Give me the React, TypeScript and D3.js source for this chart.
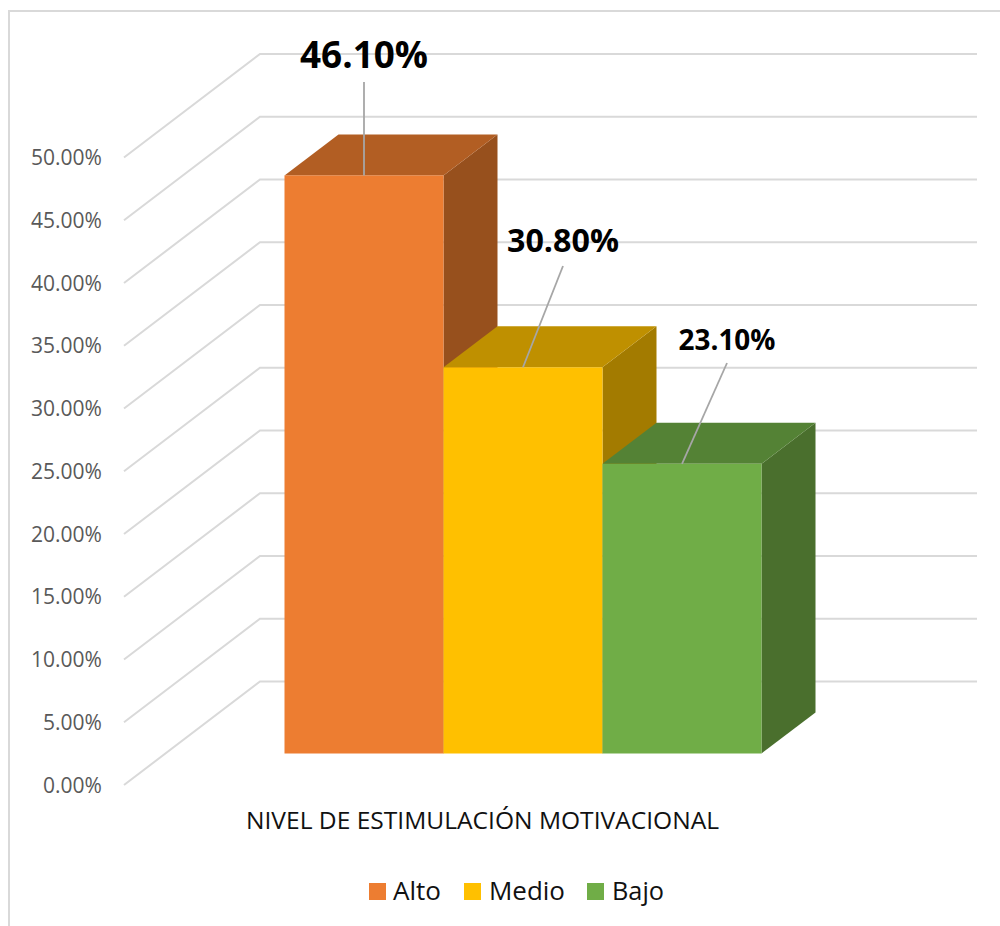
import React from "react";
import * as d3 from "d3";

const categories = ["Alto", "Medio", "Bajo"];
const values = [46.1, 30.8, 23.1];
const valueLabels = ["46.10%", "30.80%", "23.10%"];
const faceColors = ["#ED7D31", "#FFC000", "#70AD47"];
const topColors = ["#B25E23", "#BF9000", "#548235"];
const sideColors = ["#97501D", "#A37B00", "#4A6F2D"];
const ticks = [0, 5, 10, 15, 20, 25, 30, 35, 40, 45, 50];
const axisTitle = "NIVEL DE ESTIMULACIÓN MOTIVACIONAL";

const FONT = "'Open Sans', 'Noto Sans', sans-serif";

const barBase = 753.5;
const yFront = d3.scaleLinear().domain([0, 50]).range([barBase, barBase - 627]);
const yWall = d3.scaleLinear().domain([0, 50]).range([681.5, 54]);
const yLabel = d3.scaleLinear().domain([0, 50]).range([785, 157.5]);
const x = d3.scaleBand().domain(categories).range([284.5, 761.5]).padding(0);

const wallLeft = 260;
const wallRight = 977;
const frontLeft = 124;
const depthX = 54;
const depthY = 41;

const labelPos = [
  { x: 364, y: 67.5, size: 37, w: 128, lx1: 364, ly1: 82, lx2: 364 },
  { x: 563, y: 252, size: 32.5, w: 112, lx1: 563, ly1: 266, lx2: 523 },
  { x: 727, y: 350, size: 28, w: 97, lx1: 727, ly1: 363, lx2: 682 },
];

const legendPos = [
  { sx: 369, tx: 393, w: 48 },
  { sx: 464, tx: 489, w: 76 },
  { sx: 587, tx: 612, w: 52 },
];

export default function App() {
  return (
    <svg
      width={1000}
      height={926}
      style={{ position: "absolute", left: 0, top: 0, background: "#fff" }}
      fontFamily={FONT}
    >
      <path d="M9 926V11H1000" fill="none" stroke="#D9D9D9" strokeWidth={2} />
      {ticks.map((t) => (
        <g key={t}>
          <polyline
            points={`${frontLeft},${yLabel(t)} ${wallLeft},${yWall(t)} ${wallRight},${yWall(t)}`}
            fill="none"
            stroke="#D9D9D9"
            strokeWidth={2}
          />
          <text
            x={102}
            y={yLabel(t) + 7.5}
            textAnchor="end"
            fontSize={21}
            fill="#595959"
            textLength={t === 0 || t === 5 ? 59 : 71}
            lengthAdjust="spacingAndGlyphs"
          >
            {t.toFixed(2)}%
          </text>
        </g>
      ))}
      {categories.map((c, i) => {
        const x0 = x(c)!;
        const x1 = x0 + x.bandwidth();
        const top = yFront(values[i]);
        return (
          <g key={c}>
            <polygon
              points={`${x1},${barBase} ${x1 + depthX},${barBase - depthY} ${x1 + depthX},${top - depthY} ${x1},${top}`}
              fill={sideColors[i]}
            />
            <polygon
              points={`${x0},${top} ${x0 + depthX},${top - depthY} ${x1 + depthX},${top - depthY} ${x1},${top}`}
              fill={topColors[i]}
            />
            <rect x={x0} y={top} width={x.bandwidth()} height={barBase - top} fill={faceColors[i]} />
          </g>
        );
      })}
      {categories.map((c, i) => {
        const p = labelPos[i];
        return (
          <g key={c}>
            <line
              x1={p.lx1}
              y1={p.ly1}
              x2={p.lx2}
              y2={yFront(values[i])}
              stroke="#A6A6A6"
              strokeWidth={1.8}
            />
            <text
              x={p.x}
              y={p.y}
              textAnchor="middle"
              fontSize={p.size}
              fontWeight={700}
              fill="#000"
              textLength={p.w}
              lengthAdjust="spacingAndGlyphs"
            >
              {valueLabels[i]}
            </text>
          </g>
        );
      })}
      <text
        x={246}
        y={829}
        fontSize={24.5}
        fill="#111"
        textLength={473}
        lengthAdjust="spacingAndGlyphs"
      >
        {axisTitle}
      </text>
      {categories.map((c, i) => (
        <g key={c}>
          <rect x={legendPos[i].sx} y={883} width={17} height={17} fill={faceColors[i]} />
          <text
            x={legendPos[i].tx}
            y={900}
            fontSize={25.5}
            fill="#111"
            textLength={legendPos[i].w}
            lengthAdjust="spacingAndGlyphs"
          >
            {c}
          </text>
        </g>
      ))}
    </svg>
  );
}
